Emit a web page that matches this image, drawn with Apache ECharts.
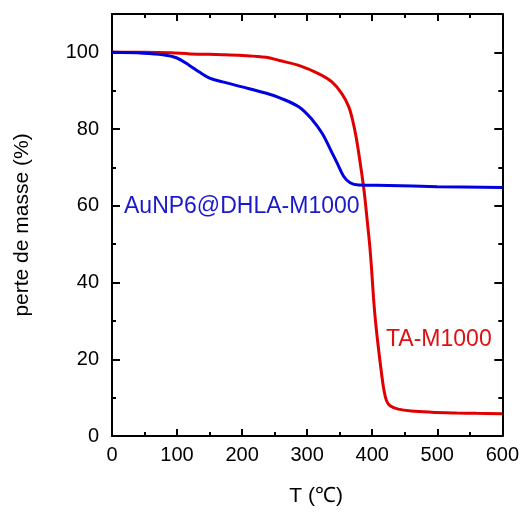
<!DOCTYPE html>
<html>
<head>
<meta charset="utf-8">
<script src="https://cdn.jsdelivr.net/npm/echarts@6/dist/echarts.min.js"></script>
<style>html,body{margin:0;padding:0;background:#fff;}#c{width:522px;height:512px;}</style>
</head>
<body>
<div id="c"></div>
<script>
var xTitle = 'T (\u2103)';
var yTitle = 'perte de masse (%)';
var seriesNames = ['AuNP6@DHLA-M1000', 'TA-M1000'];
var blueT = [0, 48, 78, 99, 119, 135, 150, 170, 200, 236, 257, 287, 308, 323, 336, 346, 356, 366, 379, 425, 500, 600];
var blueM = [100, 99.8, 99.4, 98.6, 96.6, 94.8, 93.3, 92.3, 91.0, 89.4, 88.2, 85.8, 82.4, 78.9, 74.6, 71.2, 67.7, 66.0, 65.4, 65.3, 65.0, 64.8];
var redT = [0, 50, 90, 120, 170, 200, 237, 257, 287, 318, 338, 353, 364, 371, 376, 381.5, 386.6, 389, 393, 396, 399, 402, 405, 409.5, 414.5, 418, 422, 428, 440, 460, 491, 530, 560, 600];
var redM = [100, 100, 99.9, 99.6, 99.4, 99.2, 98.7, 97.9, 96.6, 94.4, 92.3, 89.3, 85.8, 81.5, 77.2, 71.2, 65.1, 61.7, 55, 50, 43.6, 36, 30, 23, 16.1, 12, 9.2, 7.8, 7.0, 6.5, 6.2, 6.0, 5.9, 5.8];

function pairs(a, b) { return a.map(function (v, i) { return [v, b[i]]; }); }

var font = 'Liberation Sans, Arial, sans-serif';
var chart = echarts.init(document.getElementById('c'), null, { renderer: 'canvas' });
var axisLine = { show: true, onZero: false, lineStyle: { color: '#000', width: 2 } };
chart.setOption({
  animation: false,
  backgroundColor: '#fff',
  grid: { left: 112, right: 17, top: 14, bottom: 73 },
  xAxis: [{
    type: 'value', min: 0, max: 600, interval: 100, position: 'bottom',
    name: xTitle, nameLocation: 'middle', nameGap: 50,
    nameTextStyle: { fontFamily: font, fontSize: 21, color: '#000', padding: [0, 0, 0, 18] },
    axisLine: axisLine,
    axisTick: { show: true, inside: true, length: 7, lineStyle: { color: '#000', width: 2 } },
    minorTick: { show: true, splitNumber: 2, length: 4, lineStyle: { color: '#000', width: 2 } },
    axisLabel: { fontFamily: font, fontSize: 20, color: '#000', margin: 9 },
    splitLine: { show: false }
  }, {
    type: 'value', min: 0, max: 600, interval: 100, position: 'top',
    axisLine: axisLine,
    axisTick: { show: true, inside: true, length: 7, lineStyle: { color: '#000', width: 2 } },
    minorTick: { show: true, splitNumber: 2, length: 4, lineStyle: { color: '#000', width: 2 } },
    axisLabel: { show: false }, splitLine: { show: false }
  }],
  yAxis: [{
    type: 'value', min: 0, max: 110, interval: 20, position: 'left',
    name: yTitle, nameLocation: 'middle', nameGap: 79, nameRotate: 90,
    nameTextStyle: { fontFamily: font, fontSize: 21, color: '#000' },
    axisLine: axisLine,
    axisTick: { show: true, inside: true, length: 8, lineStyle: { color: '#000', width: 2 } },
    minorTick: { show: true, splitNumber: 2, length: 4, lineStyle: { color: '#000', width: 2 } },
    axisLabel: { fontFamily: font, fontSize: 20, color: '#000', margin: 13,
      formatter: function (v) { return v > 100 ? '' : String(v); } },
    splitLine: { show: false }
  }, {
    type: 'value', min: 0, max: 110, interval: 20, position: 'right',
    axisLine: axisLine,
    axisTick: { show: true, inside: true, length: 8, lineStyle: { color: '#000', width: 2 } },
    minorTick: { show: true, splitNumber: 2, length: 4, lineStyle: { color: '#000', width: 2 } },
    axisLabel: { show: false }, splitLine: { show: false }
  }],
  series: [{
    name: seriesNames[1], type: 'line', data: pairs(redT, redM), showSymbol: false,
    smooth: 0.35,
    lineStyle: { color: '#e00000', width: 3 }, z: 2
  }, {
    name: seriesNames[0], type: 'line', data: pairs(blueT, blueM), showSymbol: false,
    smooth: 0.35,
    lineStyle: { color: '#0000e0', width: 3 }, z: 3
  }],
  graphic: [{
    type: 'text', left: 124, top: 195,
    style: { text: seriesNames[0], fontFamily: font, fontSize: 23, fill: '#1a1acc' }
  }, {
    type: 'text', left: 386, top: 328,
    style: { text: seriesNames[1], fontFamily: font, fontSize: 23, fill: '#dd1111' }
  }]
});
</script>
</body>
</html>
